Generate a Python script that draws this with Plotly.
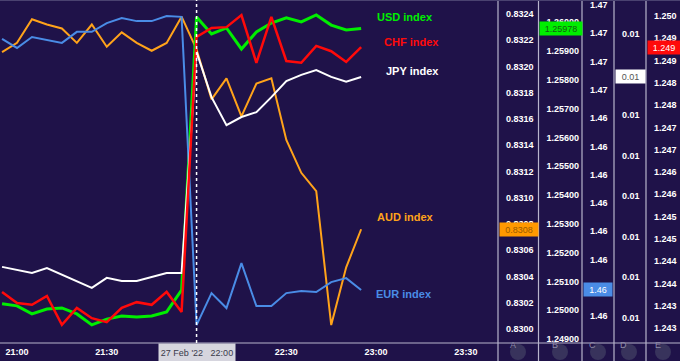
import plotly.graph_objects as go

# ---------------- data ----------------
times = ["20:55", "21:00", "21:05", "21:10", "21:15", "21:20", "21:25", "21:30", "21:35",
         "21:40", "21:45", "21:50", "21:55", "22:00", "22:05", "22:10", "22:15", "22:20",
         "22:25", "22:30", "22:35", "22:40", "22:45", "22:50", "22:55"]

aud_index = [0.83211, 0.83218, 0.83236, 0.83232, 0.83229, 0.83218, 0.83232, 0.83215, 0.83226,
             0.83218, 0.83212, 0.83218, 0.83238, 0.83213, 0.83175, 0.83191, 0.83162, 0.83187,
             0.83191, 0.83144, 0.83119, 0.83105, 0.83003, 0.83047, 0.83076]

usd_index = [1.25022, 1.25015, 1.24987, 1.25004, 1.25008, 1.24987, 1.24949, 1.24969, 1.24980,
             1.24976, 1.24980, 1.24994, 1.25070, 1.26018, 1.25959, 1.25980, 1.25907, 1.25966,
             1.25997, 1.26015, 1.26001, 1.26025, 1.25990, 1.25973, 1.25978]

eur_index = [1.46680, 1.46648, 1.46687, 1.46676, 1.46666, 1.46705, 1.46705, 1.46736, 1.46754,
             1.46743, 1.46743, 1.46761, 1.46758, 1.45668, 1.45781, 1.45728, 1.45887, 1.45735,
             1.45735, 1.45781, 1.45788, 1.45785, 1.45820, 1.45834, 1.45792]

jpy_index = [0.0086425, 0.0086417, 0.0086410, 0.0086422, 0.0086405, 0.0086388, 0.0086373,
             0.0086398, 0.0086390, 0.0086390, 0.0086400, 0.0086410, 0.0086410, 0.0086956,
             0.0086844, 0.0086775, 0.0086795, 0.0086807, 0.0086844, 0.0086884, 0.0086899,
             0.0086911, 0.0086894, 0.0086882, 0.0086894]

chf_index = [1.24381, 1.24356, 1.24352, 1.24372, 1.24307, 1.24345, 1.24322, 1.24313, 1.24345,
             1.24358, 1.24352, 1.24381, 1.24336, 1.24953, 1.24973, 1.24975, 1.25002, 1.24895,
             1.24998, 1.24899, 1.24895, 1.24933, 1.24921, 1.24897, 1.24930]

# axis ticks (ticks hidden behind the value boxes are left out)
a_ticks = [0.8300, 0.8302, 0.8304, 0.8306, 0.8308, 0.8310, 0.8312, 0.8314, 0.8316, 0.8318,
           0.8320, 0.8322, 0.8324]
b_ticks = [1.249, 1.250, 1.251, 1.252, 1.253, 1.254, 1.255, 1.256, 1.257, 1.258, 1.259, 1.260]
c_ticks = [1.457, 1.459, 1.460, 1.461, 1.462, 1.463, 1.464, 1.465, 1.466, 1.467, 1.468]
c_labels = ["1.46", "1.46", "1.46", "1.46", "1.46", "1.46", "1.46",
            "1.47", "1.47", "1.47", "1.47"]
d_ticks = [0.00863, 0.00864, 0.00865, 0.00866, 0.00867, 0.00868, 0.00870]
d_labels = ["0.01", "0.01", "0.01", "0.01", "0.01", "0.01", "0.01"]
e_ticks = [1.2430, 1.2435, 1.2440, 1.2445, 1.2450, 1.2455, 1.2460, 1.2465, 1.2470, 1.2475,
           1.2480, 1.2485, 1.2490, 1.2495, 1.2500]
e_labels = ["1.243", "1.243", "1.244", "1.244", "1.245", "1.245", "1.246", "1.246", "1.247",
            "1.247", "1.248", "1.248", "1.249", "1.249", "1.250"]

x_tick_times = ["21:00", "21:30", "22:30", "23:00", "23:30"]
day = "2022-02-27"
crosshair_time = "22:00"
crosshair_label = "27 Feb '22   22:00"

# last-value labels
aud_last_label = "0.8308"
usd_last_label = "1.25978"
eur_last_label = "1.46"
jpy_last_label = "0.01"
chf_last_label = "1.249"

# ---------------- styling ----------------
W, H = 680, 361
BOTTOM = 18
PH = H - BOTTOM
BG = "#1f1249"
SEP = "#b8b4cc"
FONT = "Arial"

GREEN = "#00ee00"
RED = "#ff0a0a"
WHITE = "#ffffff"
ORANGE = "#ffa31a"
BLUE = "#4a8ce6"

def px(xp):
    return xp / W

def py(yp):
    return (PH - yp) / PH

x = [f"{day} {t}" for t in times]
xdom_end = 497 / W
axis_pos = {"A": 498, "B": 538.5, "C": 582, "D": 614, "E": 646}

fig = go.Figure()
fig.add_trace(go.Scatter(x=x, y=aud_index, yaxis="y", mode="lines",
                         line=dict(color=ORANGE, width=2), name="AUD index"))
fig.add_trace(go.Scatter(x=x, y=eur_index, yaxis="y3", mode="lines",
                         line=dict(color=BLUE, width=2), name="EUR index"))
fig.add_trace(go.Scatter(x=x, y=jpy_index, yaxis="y4", mode="lines",
                         line=dict(color=WHITE, width=2), name="JPY index"))
fig.add_trace(go.Scatter(x=x, y=chf_index, yaxis="y5", mode="lines",
                         line=dict(color=RED, width=2.5), name="CHF index"))
fig.add_trace(go.Scatter(x=x, y=usd_index, yaxis="y2", mode="lines",
                         line=dict(color=GREEN, width=3), name="USD index"))

tickfont = dict(family=FONT, size=9, color="white", weight="bold")

def yax(key, rng, tickvals, ticktext=None, fmt=None, overlay=True):
    d = dict(anchor="free", position=px(axis_pos[key]), side="right", range=rng,
             tickvals=tickvals, showgrid=False, zeroline=False, showline=False,
             ticks="", ticklabelstandoff=7, tickfont=tickfont, fixedrange=True,
             automargin=False)
    if ticktext is not None:
        d["ticktext"] = ticktext
    if fmt is not None:
        d["tickformat"] = fmt
    if overlay:
        d["overlaying"] = "y"
    return d

fig.update_layout(
    width=W, height=H, autosize=False,
    margin=dict(l=0, r=0, t=0, b=BOTTOM, pad=0, autoexpand=False),
    paper_bgcolor=BG, plot_bgcolor=BG,
    showlegend=False,
    xaxis=dict(type="date", domain=[0, xdom_end],
               range=[f"{day} 20:54:19", f"{day} 23:40:24"],
               tickvals=[f"{day} {t}" for t in x_tick_times], tickformat="%H:%M",
               showgrid=False, zeroline=False, showline=False, ticks="",
               ticklabelstandoff=2, tickfont=tickfont, automargin=False,
               fixedrange=True),
    yaxis=yax("A", [0.8298933, 0.8325067], a_ticks, fmt=".4f", overlay=False),
    yaxis2=yax("B", [1.2488611, 1.2607708], b_ticks, fmt=".5f"),
    yaxis3=yax("C", [1.456045, 1.4681768], c_ticks, ticktext=c_labels),
    yaxis4=yax("D", [0.0086237037, 0.0087083951], d_ticks, ticktext=d_labels),
    yaxis5=yax("E", [1.2426634, 1.2503590], e_ticks, ticktext=e_labels),
)

shapes = []
# separators
for k in ["A", "B", "C", "D", "E"]:
    shapes.append(dict(type="line", xref="paper", yref="paper",
                       x0=px(axis_pos[k]), x1=px(axis_pos[k]), y0=py(0), y1=py(H),
                       line=dict(color=SEP, width=1.2)))
shapes.append(dict(type="line", xref="paper", yref="paper", x0=0, x1=1,
                   y0=py(343), y1=py(343), line=dict(color=SEP, width=1.2)))
shapes.append(dict(type="line", xref="paper", yref="paper", x0=0, x1=1,
                   y0=py(0.5), y1=py(0.5), line=dict(color="#4a4270", width=1)))
# crosshair
shapes.append(dict(type="line", xref="x", yref="paper",
                   x0=f"{day} {crosshair_time}", x1=f"{day} {crosshair_time}",
                   y0=py(343), y1=py(0),
                   line=dict(color="white", width=1.5, dash="dot")))
# axis letter circles
letter_cx = {"A": 518, "B": 560, "C": 598, "D": 629, "E": 663}
for k, cx in letter_cx.items():
    shapes.append(dict(type="circle", xref="paper", yref="paper",
                       x0=px(cx - 8), x1=px(cx + 8), y0=py(360), y1=py(344),
                       fillcolor="#38335c", line=dict(width=0)))
fig.update_layout(shapes=shapes)

ann = []
for k, cx in letter_cx.items():
    ann.append(dict(text=k, xref="paper", yref="paper", x=px(cx), y=py(352),
                    showarrow=False, font=dict(family=FONT, size=9, color="#8e8aa8")))

# series name labels
for text, color, cxp, cyp in [("USD index", GREEN, 405, 17), ("CHF index", RED, 411, 42),
                              ("JPY index", WHITE, 413, 71), ("AUD index", ORANGE, 405, 217),
                              ("EUR index", BLUE, 404, 294)]:
    ann.append(dict(text=text, xref="paper", yref="paper", x=px(cxp), y=py(cyp),
                    showarrow=False, xanchor="center", yanchor="middle",
                    font=dict(family=FONT, size=11, color=color, weight="bold")))

# last value boxes
for text, yref, yval, key, w, bg, fc in [
        (aud_last_label, "y", aud_index[-1], "A", 36, "#ff9900", "#9a5a00"),
        (usd_last_label, "y2", usd_index[-1], "B", 40, "#00ee00", "#145c14"),
        (eur_last_label, "y3", eur_index[-1], "C", 26, "#4a8ce6", "#ffffff"),
        (jpy_last_label, "y4", jpy_index[-1], "D", 27, "#ffffff", "#555555"),
        (chf_last_label, "y5", chf_index[-1], "E", 30, "#ff0a0a", "#ffffff")]:
    ann.append(dict(text=text, xref="paper", yref=yref, x=px(axis_pos[key] + 0.5), y=yval,
                    xanchor="left", yanchor="middle", showarrow=False,
                    width=w, height=11, bgcolor=bg, borderpad=1, align="center",
                    font=dict(family=FONT, size=9, color=fc)))

# crosshair time label
ann.append(dict(text=crosshair_label, xref="x", yref="paper", x=f"{day} {crosshair_time}",
                y=py(352.5), xanchor="center", yanchor="middle", showarrow=False,
                width=74, height=15, bgcolor="#d6d5de", borderpad=1,
                font=dict(family=FONT, size=9, color="#3a3a4a")))
fig.update_layout(annotations=ann)

fig.write_html("out.html", config={"displayModeBar": False, "staticPlot": True},
               post_script="document.body.style.margin='0';document.body.style.padding='0';"
                           "document.body.style.overflow='hidden';")
